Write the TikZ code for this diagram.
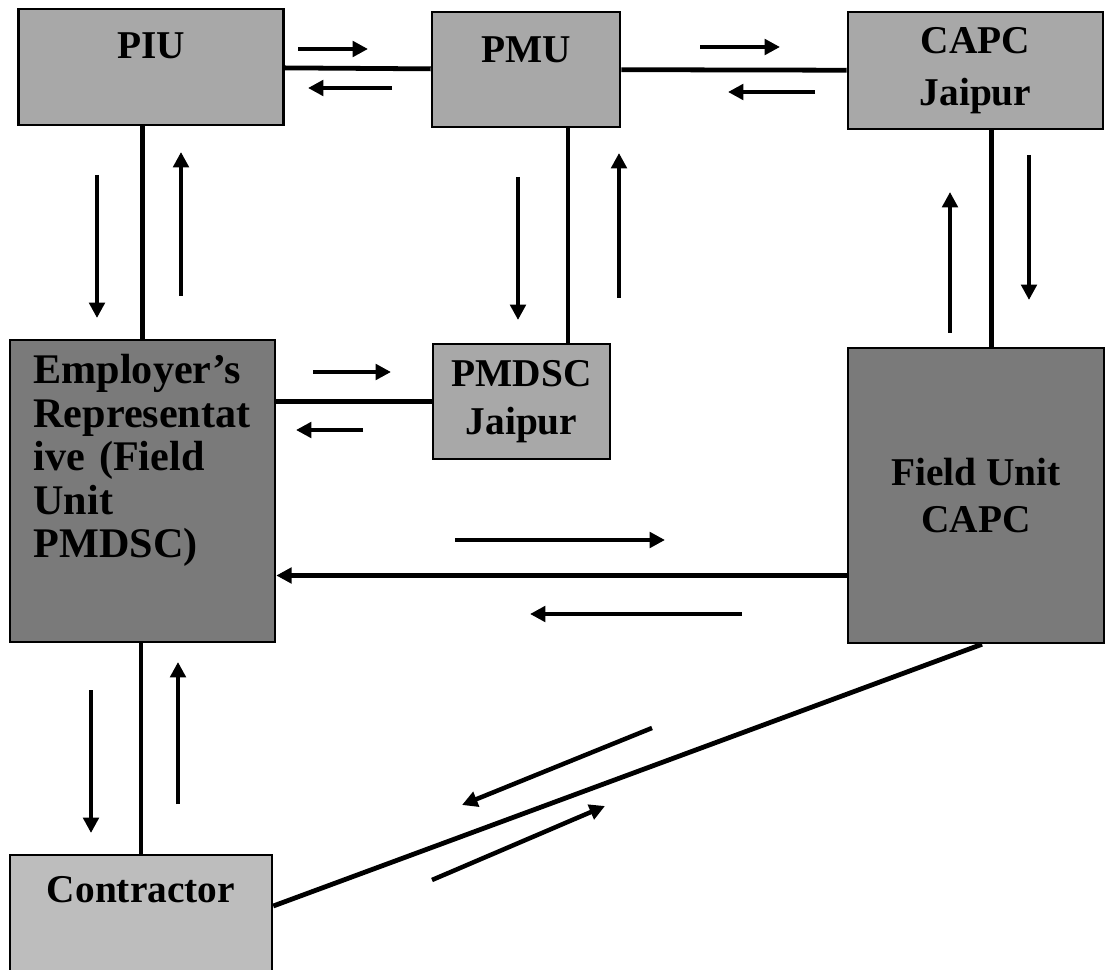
\documentclass[tikz,border=0pt]{standalone}
\usepackage{fontspec}
\setmainfont{Liberation Serif}
\usetikzlibrary{arrows.meta}
\definecolor{shade}{gray}{0.66}
\definecolor{deep}{gray}{0.48}
\definecolor{pale}{gray}{0.74}
\newcommand{\px}{0.025cm}

\begin{document}
\begin{tikzpicture}[
    x=\px, y=-\px,
    every node/.style={font=\bfseries\fontsize{28}{34}\selectfont},
    box/.style={
      rectangle,
      draw=black,
      line width=1.8pt,
      fill=shade,
      align=center,
      inner sep=2pt
    },
    link/.style={line width=3.4pt},
    arr/.style={-{Triangle[length=11pt,width=11pt]}, line width=3.2pt}
  ]
    \useasboundingbox (0,0) rectangle (1105,970);
    \clip (0,0) rectangle (1105,970);

    \node[box, minimum width=265*\px, minimum height=116*\px, text depth=31pt] (piu) at (151,67) {PIU};
    \node[box, minimum width=188*\px, minimum height=115*\px, text depth=28pt] (pmu) at (526,69.5) {PMU};
    \node[box, minimum width=255*\px, minimum height=117*\px] (capc) at (975.5,70.5) {CAPC\\[3pt]Jaipur};
    \node[box, fill=deep, minimum width=265*\px, minimum height=302*\px, text width=218*\px, align=left,
          text height=20pt, text depth=173pt, font=\bfseries\fontsize{30}{31}\selectfont] (er) at (142.5,491)
          {Employer's\\Representat\\ive (Field\\Unit\\PMDSC)};
    \node[box, minimum width=177*\px, minimum height=115*\px] (pmdsc) at (521.5,401.5) {PMDSC\\Jaipur};
    \node[box, fill=deep, minimum width=256*\px, minimum height=295*\px] (field) at (976,495.5) {Field Unit\\CAPC};
    \node[box, fill=pale, minimum width=262*\px, minimum height=130*\px, text depth=43pt] (contractor) at (141,920) {Contractor};

    \draw[link] (piu) -- (pmu);
    \draw[link] (pmu) -- (capc);
    \draw[link] (er.north) -- (er.north |- piu.south);
    \draw[link] ([xshift=42*\px]pmu.south) -- ([xshift=42*\px]pmu.south |- pmdsc.north);
    \draw[link] ([xshift=16*\px]capc.south) -- ([xshift=16*\px]capc.south |- field.north);
    \draw[link] (pmdsc.west) -- (pmdsc.west -| er.east);
    \draw[arr] ([yshift=-80*\px]field.west) -- ([yshift=-80*\px]field.west -| er.east);
    \draw[link] (contractor.north) -- (contractor.north |- er.south);
    \draw[link] ([yshift=14*\px]contractor.east) -- ([xshift=6*\px]field.south);

    \draw[arr] (298,49) -- (368,49);
    \draw[arr] (392,88) -- (308,88);
    \draw[arr] (700,47) -- (780,47);
    \draw[arr] (815,92) -- (728,92);
    \draw[arr] (97,175) -- (97,318);
    \draw[arr] (181,296) -- (181,152);
    \draw[arr] (518,177) -- (518,320);
    \draw[arr] (619,298) -- (619,153);
    \draw[arr] (950,333) -- (950,192);
    \draw[arr] (1029,155) -- (1029,300);
    \draw[arr] (313,372) -- (391,372);
    \draw[arr] (363,430) -- (296,430);
    \draw[arr] (455,540) -- (665,540);
    \draw[arr] (742,614) -- (530,614);
    \draw[arr] (91,690) -- (91,833);
    \draw[arr] (178,804) -- (178,662);
    \draw[arr] (652,728) -- (462,805);
    \draw[arr] (432,880) -- (605,806);
  \end{tikzpicture}
\end{document}
